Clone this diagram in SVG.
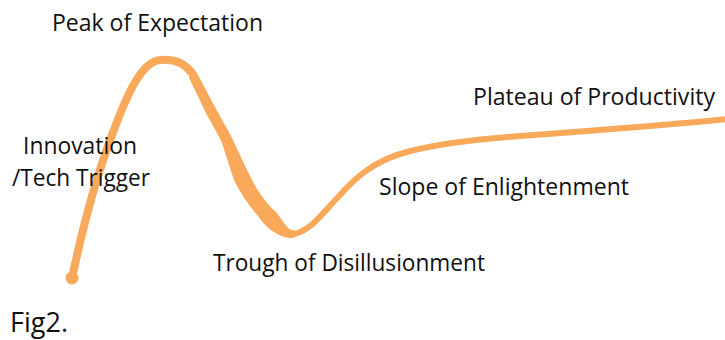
<svg xmlns="http://www.w3.org/2000/svg" width="725" height="340" viewBox="0 0 725 340">
  <style>
    .lbl { font-family: "Open Sans", "Liberation Sans", sans-serif; font-size: 23px; fill: #111111; }
    .curve { fill: none; stroke: #FAA85A; stroke-linecap: round; stroke-linejoin: round; }
    .thick { fill: #FAA85A; stroke: none; }
  </style>
  <rect width="725" height="340" fill="#ffffff"/>
  <g id="connectors">
    <path class="curve" stroke-width="8" d="M72,278 C80,240 95,180 112,135 C125,100 140,62 160,60 C176,58 186,65 192,73 C203,90 218,125 227,143 C233,157 237,170 242,180 C250,196 260,210 268,218 C276,226 283,234 292,234"/>
    <path class="curve" stroke-width="6" d="M292,234 C310,233 325,210 340,195 C355,178 375,160 407,152 C440,143 480,139 520,136 C600,130 660,126 728,119"/>
    <path class="thick" d="M190,70 C193,73 196,75 198,78 C205,90 210,98 215,107 C222,120 228,130 233,140 C240,155 246,168 252,180 C260,195 268,205 277,213 C282,220 287,228 292,231 L290,238 C275,236 265,226 258,216 C248,205 240,192 234,180 C229,165 225,152 222,143 C215,128 208,118 203,107 C198,96 193,86 189,78 Z"/>
    <circle cx="72" cy="278" r="6.5" fill="#FAA85A"/>
  </g>
  <g id="peak"><text class="lbl" x="52" y="31" textLength="211" lengthAdjust="spacingAndGlyphs">Peak of Expectation</text></g>
  <g id="trigger">
    <text class="lbl" x="23" y="154" textLength="114" lengthAdjust="spacingAndGlyphs">Innovation</text>
    <text class="lbl" x="12" y="186" textLength="138" lengthAdjust="spacingAndGlyphs">/Tech Trigger</text>
  </g>
  <g id="trough"><text class="lbl" x="213" y="271" textLength="272" lengthAdjust="spacingAndGlyphs">Trough of Disillusionment</text></g>
  <g id="slope"><text class="lbl" x="379" y="195" textLength="250" lengthAdjust="spacingAndGlyphs">Slope of Enlightenment</text></g>
  <g id="plateau"><text class="lbl" x="473" y="105" textLength="242" lengthAdjust="spacingAndGlyphs">Plateau of Productivity</text></g>
  <g id="caption"><text class="lbl" x="10" y="332" textLength="58" lengthAdjust="spacingAndGlyphs" style="font-size:28px">Fig2.</text></g>
</svg>
